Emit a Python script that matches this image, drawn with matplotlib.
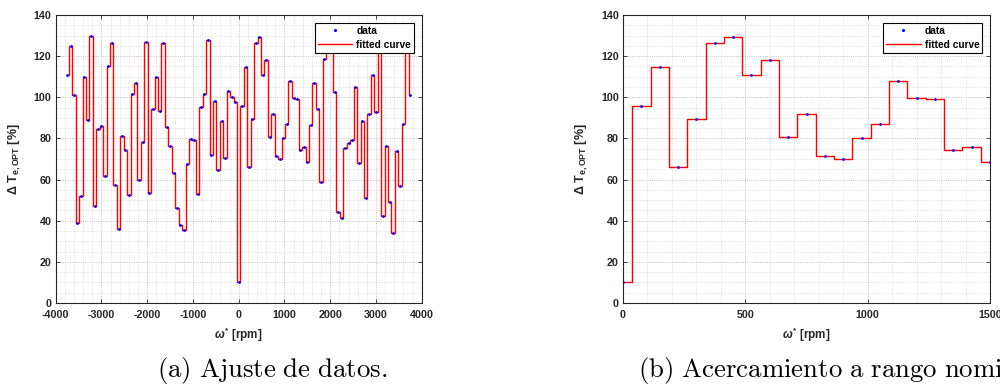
# -*- coding: utf-8 -*-
# Ajuste de datos: incremento de par optimo frente a velocidad de referencia
import matplotlib
matplotlib.use('Agg')
import matplotlib.pyplot as plt
from matplotlib.ticker import MultipleLocator

# velocidades de referencia [rpm], paso de 75 rpm
velocidad = list(range(-3750, 3751, 75))

delta_t = [111.0, 125.0, 101.0, 39.0, 52.0, 110.0, 89.0, 130.0, 47.0, 84.5,
           86.0, 61.5, 115.0, 126.5, 57.5, 36.0, 81.0, 74.5, 52.5, 101.5,
           107.0, 60.0, 78.5, 127.0, 53.5, 94.5, 110.0, 93.5, 126.5, 85.5,
           76.5, 63.0, 46.0, 38.0, 35.5, 67.5, 79.5, 79.0, 53.0, 95.5,
           101.5, 128.0, 72.0, 98.0, 64.5, 88.5, 70.5, 103.0, 100.0, 97.5,
           10.0, 96.0, 114.5, 66.0, 89.5, 126.5, 129.5, 111.0, 118.0, 80.5,
           92.0, 71.5, 70.0, 80.0, 87.0, 108.0, 99.5, 99.0, 74.5, 76.0,
           68.5, 86.5, 107.0, 94.5, 59.0, 118.5, 130.0, 124.0, 102.5, 44.0,
           41.5, 75.5, 78.0, 79.0, 105.0, 68.0, 88.5, 51.0, 92.0, 111.0,
           93.0, 127.0, 42.5, 76.5, 49.0, 34.0, 74.0, 57.0, 87.0, 126.0,
           101.0]

plt.rcParams['font.family'] = ['Liberation Sans', 'DejaVu Sans']
plt.rcParams['font.weight'] = 'bold'
plt.rcParams['axes.unicode_minus'] = False
plt.rcParams['mathtext.fontset'] = 'custom'
plt.rcParams['mathtext.rm'] = 'Liberation Sans:bold'
plt.rcParams['mathtext.bf'] = 'Liberation Sans:bold'
plt.rcParams['mathtext.it'] = 'Liberation Sans:italic'

fig = plt.figure(figsize=(10, 3.85), dpi=100)
ax1 = fig.add_axes([0.0557, 0.213, 0.366, 0.748])
ax2 = fig.add_axes([0.623, 0.213, 0.367, 0.748])


def dibujar(ax, xlim, xmajor, xminor):
    ax.step(velocidad, delta_t, where='mid', color='red', lw=1.0, label='fitted curve', zorder=2)
    ax.plot(velocidad, delta_t, '.', color='blue', ms=2.0, label='data', zorder=3)
    ax.set_xlim(xlim)
    ax.set_ylim(0, 140)
    ax.xaxis.set_major_locator(MultipleLocator(xmajor))
    ax.xaxis.set_minor_locator(MultipleLocator(xminor))
    ax.yaxis.set_major_locator(MultipleLocator(20))
    ax.yaxis.set_minor_locator(MultipleLocator(5))
    ax.grid(True, which='major', ls=':', color='#b0b0b0', lw=0.6)
    ax.grid(True, which='minor', ls=':', color='#d0d0d0', lw=0.5)
    ax.set_axisbelow(True)
    ax.tick_params(which='major', direction='in', length=3, width=0.6, top=True, right=True,
                   labelsize=7.7, colors='#262626')
    ax.tick_params(axis='x', which='major', pad=5)
    ax.tick_params(axis='y', which='major', pad=3)
    ax.tick_params(which='minor', length=0)
    for sp in ax.spines.values():
        sp.set_color('#262626')
        sp.set_linewidth(0.8)
    ax.set_xlabel(r'$\omega^{*}$ [rpm]', fontsize=8.5, fontweight='bold', color='#262626', labelpad=4)
    ax.set_ylabel(r'$\Delta$ T$_{\mathbf{e,OPT}}$ [%]', fontsize=9, fontweight='bold', color='#262626')
    ax.yaxis.set_label_coords(-0.09, 0.5)
    # leyenda: puntos primero, curva despues
    h, l = ax.get_legend_handles_labels()
    leg = ax.legend(h[::-1], l[::-1], loc='upper right', prop={'weight': 'bold', 'size': 7.3},
                    handlelength=3.4, handletextpad=0.4, borderpad=0.3, labelspacing=0.4,
                    borderaxespad=0.75, fancybox=False, framealpha=1, edgecolor='black', markerscale=1.2)
    leg.get_frame().set_linewidth(0.8)


dibujar(ax1, (-4000, 4000), 1000, 200)
dibujar(ax2, (0, 1500), 500, 100)

# pies de figura (el segundo queda recortado por el borde, como en el original)
fig.text(0.272, 0.022, r'$\mathrm{(a)\ Ajuste\ de\ datos.}$', ha='center', va='baseline',
         fontsize=19.3, math_fontfamily='cm')
fig.text(0.638, 0.022, r'$\mathrm{(b)\ Acercamiento\ a\ rango\ nominal.}$', ha='left', va='baseline',
         fontsize=19.3, math_fontfamily='cm')

fig.savefig('out.png', dpi=100)
